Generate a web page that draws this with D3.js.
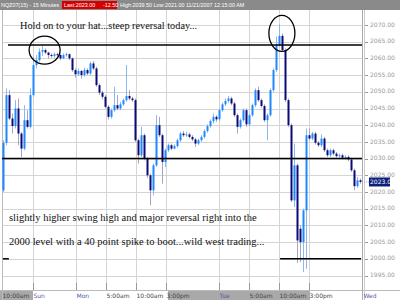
<!DOCTYPE html>
<html><head><meta charset="utf-8">
<script src="https://cdn.jsdelivr.net/npm/d3@7"></script>
<style>body{margin:0;background:#fff}svg{display:block}</style>
</head><body><svg id="c" width="400" height="300"></svg>
<script>
// 30-minute OHLC candles
const opens = [2020.5,2034.75,2049,2042,2039.75,2045,2037.5,2033,2041.5,2039.5,
2049,2058,2059.5,2062,2062.5,2061.75,2061,2060.75,2061.25,2061,
2060,2061,2061.25,2060,2056.5,2055.25,2056.25,2055,2056.5,2055.5,
2058.5,2057,2052,2049.75,2048.5,2045.5,2042.5,2044.5,2046,2045,
2046.25,2047.5,2048.75,2048,2047.5,2035.5,2031,2037,2030,2025,
2020.5,2028,2040,2037,2029,2032.5,2034,2033,2033.75,2035.5,
2037.5,2037,2037.25,2036.5,2035.75,2034.5,2035.5,2036.5,2038.25,2039.75,
2041.25,2042.5,2041.75,2044.5,2046.25,2047.25,2048,2046.5,2043,2039.5,
2041.5,2044.5,2040.25,2043,2046,2050.5,2047.5,2045.75,2041.5,2043,
2050.5,2056.5,2064,2066.75,2062.5,2047.5,2040,2017.5,2028,2009,
2005,2014.5,2037,2036,2037.5,2034.75,2034,2036,2032.5,2031,
2032.5,2031.5,2030.75,2031,2030.25,2030.5,2029.75,2026.5,2021.75,2023.5];
const highs = [2035.5,2051,2050.5,2043.5,2047.5,2048,2038,2046,2044.5,2051,
2060.5,2061,2063,2063.75,2063,2062,2061.5,2061.75,2061.75,2061.5,
2061.5,2061.75,2061.5,2060.25,2057,2057,2056.5,2057.25,2057,2059,
2059.25,2057.5,2052.5,2050.25,2049,2046,2045,2051.5,2049,2047,
2048,2058,2050.5,2048.5,2048,2036,2039.5,2037.5,2030.5,2025.5,
2028.5,2043,2042.5,2037.5,2033,2034.5,2034.5,2034.25,2036,2038,
2038.25,2038,2037.75,2037,2036.25,2036,2037,2038.75,2040.25,2041.75,
2043.5,2043,2045,2046.75,2048,2048.75,2048.5,2047,2043.5,2042,
2045,2045,2043.5,2046.5,2051,2051.5,2048,2046.25,2043.5,2051,
2057,2066.5,2070.25,2067.5,2063,2048,2040.5,2034.5,2028.5,2010,
2015,2039,2039,2038,2038,2035.25,2037.25,2036.5,2033,2033,
2033,2032,2031.5,2031.5,2031,2031,2030.25,2027,2024.5,2024];
const lows = [2020,2034,2041.5,2037.5,2039,2034,2030.5,2032.5,2039,2039,
2048.5,2057,2059,2060.75,2061.25,2060,2060.25,2060.25,2060.5,2059.5,
2059.75,2060.5,2059.5,2056,2054.25,2054.75,2054,2054.5,2055,2055,
2056.5,2051.5,2049,2047.75,2045,2041.75,2042,2044,2044.5,2044.5,
2045.75,2047,2047.5,2047,2035,2028.5,2030.5,2029.5,2024.25,2016,
2019,2027.5,2036.5,2022.5,2027.5,2032,2032.5,2032.75,2033.25,2035,
2036.5,2036.5,2036,2035.25,2033.5,2034,2035,2036,2037.75,2039.25,
2040.5,2041,2041.25,2044,2045.75,2046.75,2046,2042.5,2037.5,2039,
2041,2039.5,2039.75,2042.5,2045.5,2047,2045.25,2041,2035.5,2042.5,
2050,2056,2063.5,2062,2047,2039.5,2017,2015.5,1998.75,1999,
1996,1997,2035.5,2035.5,2034.25,2033.5,2033.5,2032,2030.5,2030.5,
2031,2030.25,2030.25,2029.75,2029.75,2029.25,2026,2020.5,2021.25,2022.5];
const closes = [2034.75,2049,2042,2039.75,2045,2037.5,2033,2041.5,2039.5,2049,
2058,2059.5,2062,2062.5,2061.75,2061,2060.75,2061.25,2061,2060,
2061,2061.25,2060,2056.5,2055.25,2056.25,2055,2056.5,2055.5,2058.5,
2057,2052,2049.75,2048.5,2045.5,2042.5,2044.5,2046,2045,2046.25,
2047.5,2048.75,2048,2047.5,2035.5,2031,2037,2030,2025,2020.5,
2028,2040,2037,2029,2032.5,2034,2033,2033.75,2035.5,2037.5,
2037,2037.25,2036.5,2035.75,2034.5,2035.5,2036.5,2038.25,2039.75,2041.25,
2042.5,2041.75,2044.5,2046.25,2047.25,2048,2046.5,2043,2039.5,2041.5,
2044.5,2040.25,2043,2046,2050.5,2047.5,2045.75,2041.5,2043,2050.5,
2056.5,2064,2066.75,2062.5,2047.5,2040,2017.5,2028,2005.5,2005,
2014.5,2037,2036,2037.5,2034.75,2034,2036,2032.5,2031,2032.5,
2031.5,2030.75,2031,2030.25,2030.5,2029.75,2026.5,2021.75,2023.5,2023];

const priceTicks = [1995,2000,2005,2010,2015,2020,2025,2030,2035,2040,2045,2050,2055,2060,2065,2070];
const timeTickPos = [0,10.33,24.67,34.67,44.67,54.67,72.33,82.33,92.33,102.33,120.33];
const timeTickLabels = ["10:00am","Sun","Mon","5:00am","10:00am","3:00pm","Tue","5:00am","10:00am","3:00pm","Wed"];
const dayLabels = ["Sun","Mon","Tue","Wed"];
const shadedSessions = [[-1,10.33],[55.33,102.67]];
const levels = [{v:2064,a:2,b:120},{v:2030,a:0,b:120},{v:2000,a:92.7,b:119.7},{v:2000,a:0.3,b:2.3}];
const lastPrice = 2023.00;
const headerLeft = "NQZ07(15) - 15 Minutes";
const headerLast = "Last:2023.00";
const headerChg = "-12.50";
const headerRight = "High:2039.50  Low:2021.00  11/21/2007  12:15:00 AM";
const noteTop = "Hold on to your hat...steep reversal today...";
const noteBottom = ["slightly higher swing high and major reversal right into the",
                    "2000 level with a 40 point spike to boot...wild west trading..."];
const circles = [{i:14.2,v:2062.5,rx:15.5,ry:14},{i:93.3,v:2067.5,rx:13,ry:18}];

const svg = d3.select("#c");
const x = d3.scaleLinear().domain([0,120]).range([2,362]);
const y = d3.scaleLinear().domain([1995,2070]).range([275.5,25]);
const n = closes.length;

// header
const hf = "Liberation Sans";
svg.append("rect").attr("x",0).attr("y",0).attr("width",400).attr("height",10).attr("fill","#8a8a8a");
svg.append("text").attr("x",1).attr("y",7.2).attr("font-family",hf).attr("font-size",5.4)
  .attr("fill","#fff").text(headerLeft);
svg.append("rect").attr("x",62).attr("y",1).attr("width",55).attr("height",8).attr("fill","#d40000");
svg.append("text").attr("x",64).attr("y",7.2).attr("font-family",hf).attr("font-size",5.4)
  .attr("fill","#fff").text(headerLast);
svg.append("text").attr("x",103).attr("y",7.2).attr("font-family",hf).attr("font-size",5.4)
  .attr("fill","#fff").text(headerChg);
svg.append("text").attr("x",120).attr("y",7.2).attr("font-family",hf).attr("font-size",5.4)
  .attr("fill","#fff").text(headerRight);

// bottom strip
svg.append("rect").attr("x",0).attr("y",290).attr("width",400).attr("height",10).attr("fill","#fff");
svg.selectAll(".sess").data(shadedSessions).enter().append("rect")
  .attr("x",d=>Math.max(0,x(d[0]))).attr("y",290)
  .attr("width",d=>x(d[1])-Math.max(0,x(d[0]))).attr("height",10).attr("fill","#a9a9a9");
svg.append("line").attr("x1",0).attr("x2",400).attr("y1",290.5).attr("y2",290.5).attr("stroke","#bbb");

// grid
const g = svg.append("g");
g.selectAll(".hg").data(priceTicks).enter().append("line")
  .attr("x1",2).attr("x2",363).attr("y1",d=>Math.round(y(d))+0.5).attr("y2",d=>Math.round(y(d))+0.5)
  .attr("stroke","#d4d4d4");
g.selectAll(".vg").data(timeTickPos.slice(1,-1)).enter().append("line")
  .attr("x1",d=>Math.round(x(d))+0.5).attr("x2",d=>Math.round(x(d))+0.5).attr("y1",10).attr("y2",290)
  .attr("stroke","#d4d4d4");
g.selectAll(".vt").data(timeTickPos.slice(1,-1)).enter().append("line")
  .attr("x1",d=>Math.round(x(d))+0.5).attr("x2",d=>Math.round(x(d))+0.5).attr("y1",283).attr("y2",290)
  .attr("stroke","#999");
svg.append("line").attr("x1",2.5).attr("x2",2.5).attr("y1",10).attr("y2",300).attr("stroke","#bbb");
svg.append("line").attr("x1",362.5).attr("x2",362.5).attr("y1",10).attr("y2",300).attr("stroke","#aaa");
svg.append("line").attr("x1",364.5).attr("x2",364.5).attr("y1",10).attr("y2",300).attr("stroke","#ccc");

// right axis
const ya = svg.append("g");
ya.selectAll(".yt").data(priceTicks).enter().append("line")
  .attr("x1",365).attr("x2",368).attr("y1",d=>Math.round(y(d))+0.5).attr("y2",d=>Math.round(y(d))+0.5)
  .attr("stroke","#999");
ya.selectAll(".yl").data(priceTicks).enter().append("text")
  .attr("x",370).attr("y",d=>y(d)-0.5).attr("dy","0.35em").attr("font-family","DejaVu Sans").attr("font-size",6)
  .attr("fill","#999").text(d=>d.toFixed(2));

// time labels
svg.selectAll(".tl").data(timeTickPos).enter().append("text")
  .attr("x",d=>x(d)+0.5).attr("y",298).attr("font-family","DejaVu Sans").attr("font-size",6)
  .attr("fill",(d,i)=>dayLabels.includes(timeTickLabels[i])?"#5a5aa8":"#444")
  .text((d,i)=>timeTickLabels[i]);

// candles
const cg = svg.append("g");
const data = d3.range(n).map(i=>({i,o:opens[i],h:highs[i],l:lows[i],c:closes[i]}));
cg.selectAll(".wick").data(data).enter().append("line")
  .attr("x1",d=>x(d.i+0.5)).attr("x2",d=>x(d.i+0.5))
  .attr("y1",d=>y(d.h)).attr("y2",d=>y(d.l))
  .attr("stroke",d=>d.c>=d.o?"#8ab8f0":"#a4a4c4").attr("stroke-width",1);
cg.selectAll(".body").data(data).enter().append("rect")
  .attr("x",d=>x(d.i+0.5)-1).attr("width",2)
  .attr("y",d=>y(Math.max(d.o,d.c)))
  .attr("height",d=>Math.max(1,Math.abs(y(d.o)-y(d.c))))
  .attr("fill",d=>d.c>=d.o?"#1e88ff":"#0a0a78");

// level lines
svg.selectAll(".lvl").data(levels).enter().append("line")
  .attr("x1",d=>x(d.a)).attr("x2",d=>x(d.b)).attr("y1",d=>y(d.v)).attr("y2",d=>y(d.v))
  .attr("stroke","#000").attr("stroke-width",1.5);

// circles
svg.selectAll(".circ").data(circles).enter().append("ellipse")
  .attr("cx",d=>x(d.i)).attr("cy",d=>y(d.v)).attr("rx",d=>d.rx).attr("ry",d=>d.ry)
  .attr("fill","none").attr("stroke","#000").attr("stroke-width",1.3);

// last price marker
svg.append("line").attr("x1",x(n)).attr("x2",370).attr("y1",y(lastPrice)).attr("y2",y(lastPrice))
  .attr("stroke","#8ab0e8").attr("stroke-dasharray","1,1");
svg.append("rect").attr("x",369).attr("y",y(lastPrice)-4.5).attr("width",21).attr("height",9).attr("fill","#0d1f7a");
svg.append("text").attr("x",370).attr("y",y(lastPrice)).attr("dy","0.35em").attr("font-family","DejaVu Sans")
  .attr("font-size",6).attr("fill","#fff").text(lastPrice.toFixed(2));

// notes
svg.append("text").attr("x",20).attr("y",28.5).attr("font-family","Liberation Serif").attr("font-size",10.3)
  .attr("fill","#111").text(noteTop);
svg.selectAll(".nb").data(noteBottom).enter().append("text")
  .attr("x",9).attr("y",(d,i)=>221+i*23.5).attr("font-family","Liberation Serif").attr("font-size",10.5)
  .attr("fill","#111").text(d=>d);
</script></body></html>
